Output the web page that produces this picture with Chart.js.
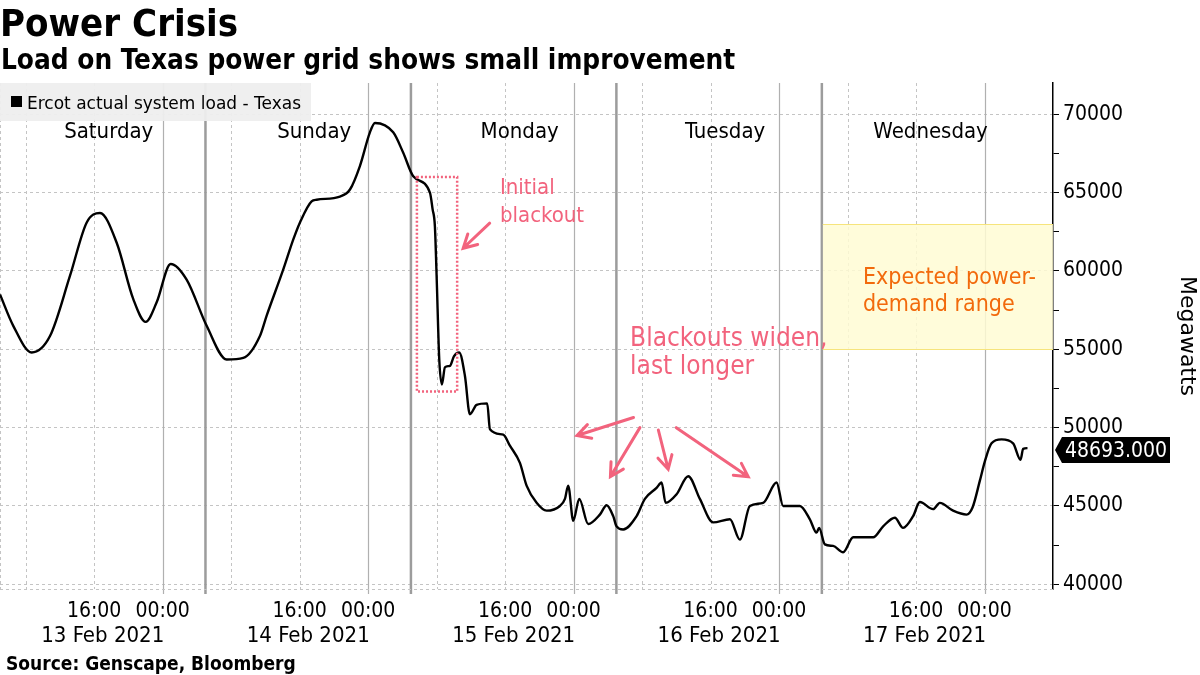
<!DOCTYPE html>
<html>
<head>
<meta charset="utf-8">
<script src="https://cdn.jsdelivr.net/npm/chart.js@4.4.1/dist/chart.umd.min.js"></script>
<style>
  html, body { margin: 0; padding: 0; background: #fff; }
  #wrap { position: relative; width: 1200px; height: 675px; overflow: hidden;
          font-family: "DejaVu Sans Condensed", "DejaVu Sans", sans-serif; color: #000; }
  #title { position: absolute; left: 0; top: 4px; font-size: 38px; font-weight: bold; line-height: 1; }
  #subtitle { position: absolute; left: 1px; top: 46px; font-size: 27.7px; font-weight: bold; line-height: 1; }
  #source { position: absolute; left: 6px; top: 654px; font-size: 19px; font-weight: bold; line-height: 1; }
  #chart { position: absolute; left: 0; top: 0; }
</style>
</head>
<body>
<div id="wrap">
  <canvas id="chart" width="1200" height="675"></canvas>
  <div id="title">Power Crisis</div>
  <div id="subtitle">Load on Texas power grid shows small improvement</div>
  <div id="source">Source: Genscape, Bloomberg</div>
</div>
<script>
// hours counted from 13 Feb 2021 00:00 (chart time)
const hours = [
  5.0, 6.55, 8.7, 10.84, 13.18, 15.13, 16.68, 18.63, 20.57, 22.02, 23.3, 24.94, 26.8,
  29.14, 31.48, 33.42, 35.36, 36.15, 38.09, 39.25, 40.04, 41.4, 41.99, 44.71, 45.88,
  47.04, 48.21, 48.8, 50.93, 52.1, 53.27, 55.22, 55.53, 55.8, 56.0, 56.31, 56.62,
  56.97, 57.56, 58.02, 58.64, 59.31, 59.89, 60.67, 61.91, 62.23, 63.78, 64.56, 65.73,
  66.51, 67.68, 68.85, 70.4, 70.99, 71.37, 71.96, 72.66, 73.71, 75.07, 75.86, 76.63,
  77.02, 77.79, 79.36, 80.33, 81.69, 82.28, 82.75, 84.03, 85.39, 86.75, 88.3, 90.26,
  91.42, 92.59, 94.14, 95.71, 96.48, 98.43, 99.6, 100.38, 100.68, 101.35, 102.32,
  103.49, 104.66, 106.99, 108.16, 109.53, 110.49, 111.66, 112.45, 114.0, 114.78,
  116.33, 117.9, 118.6, 119.45, 120.04, 120.82, 121.99, 123.34, 124.21, 124.51, 125.02
];
// Ercot actual system load, MW
const load = [
  58500, 56500, 54800, 55850, 59700, 63100, 63700, 61800, 58200, 56750, 58000, 60450, 59450,
  56500, 54350, 54450, 55850, 57150, 60100, 62000, 63100, 64450, 64550, 64750, 65200,
  66700, 68850, 69450, 68850, 67550, 66050, 65000, 63950, 62850, 59700, 54350, 52750,
  53850, 53950, 54550, 54800, 53300, 50850, 51450, 51550, 49900, 49550, 48850, 47750,
  46300, 45200, 44700, 45000, 45450, 46300, 44050, 45450, 43850, 44450, 45050, 44350,
  43700, 43500, 44350, 45450, 46150, 46500, 45200, 45750, 46900, 45450, 43950, 44150,
  42850, 45000, 45200, 46500, 45000, 45000, 44150, 43300, 43600, 42550, 42450,
  42050, 43000, 43000, 43700, 44250, 43600, 44350, 45250, 44800, 45200,
  44700, 44450, 44900, 46600, 47850, 49000, 49250, 49000, 47950, 48650, 48693
];
const seriesName = 'Ercot actual system load - Texas';
const dayNames = ['Saturday', 'Sunday', 'Monday', 'Tuesday', 'Wednesday'];
const dayDates = ['13 Feb 2021', '14 Feb 2021', '15 Feb 2021', '16 Feb 2021', '17 Feb 2021'];
const dayStarts = [5, 29, 53, 77, 101];
const xTicks = [16, 24, 40, 48, 64, 72, 88, 96, 112, 120];
const yTicks = [40000, 42500, 45000, 47500, 50000, 52500, 55000, 57500, 60000, 62500, 65000, 67500, 70000];
const demandRange = [55000, 63000];

// annotation anchors in data units [hour, MW]
const blackoutBox = [53.7, 58.4, 52300, 66000];
const initialArrow = [62.2, 63050, 59.1, 61450];
const widenArrows = [
  [79.0, 50650, 72.4, 49500],
  [79.75, 50000, 76.3, 46870],
  [81.9, 49850, 83.05, 47350],
  [84.0, 50000, 92.4, 46870]
];

const FONT = '"DejaVu Sans Condensed", "DejaVu Sans", sans-serif';
const FONT_WIDE = '"DejaVu Sans", sans-serif';
const PINK = '#f2637d';
const ORANGE = '#f26a0c';
Chart.defaults.font.family = FONT;
Chart.defaults.color = '#000';

function vline(ctx, px, top, bottom, color, width, dash) {
  ctx.save();
  ctx.strokeStyle = color;
  ctx.lineWidth = width;
  ctx.setLineDash(dash || []);
  ctx.beginPath();
  ctx.moveTo(px, top);
  ctx.lineTo(px, bottom);
  ctx.stroke();
  ctx.restore();
}

function arrow(ctx, x1, y1, x2, y2) {
  const a = Math.atan2(y2 - y1, x2 - x1), L = 15, w = 0.5;
  ctx.beginPath();
  ctx.moveTo(x1, y1);
  ctx.lineTo(x2, y2);
  ctx.moveTo(x2 - L * Math.cos(a - w), y2 - L * Math.sin(a - w));
  ctx.lineTo(x2, y2);
  ctx.lineTo(x2 - L * Math.cos(a + w), y2 - L * Math.sin(a + w));
  ctx.stroke();
}

const decorations = {
  id: 'decorations',
  beforeDatasetsDraw(chart) {
    const {ctx, chartArea: a, scales: {x, y}} = chart;
    // vertical grid: 08:00 / 16:00 dashed, 00:00 light, day separators dark
    vline(ctx, Math.round(x.getPixelForValue(5)) + 0.5, a.top, a.bottom, '#c4c4c4', 1, [3, 3]);
    dayStarts.forEach((s, i) => {
      [s + 3, s + 11].forEach(h => {
        vline(ctx, Math.round(x.getPixelForValue(h)) + 0.5, a.top, a.bottom, '#c4c4c4', 1, [3, 3]);
      });
      vline(ctx, Math.round(x.getPixelForValue(s + 19)) + 0.5, a.top, a.bottom + 5, '#b0b0b0', 1.2);
      if (i < dayStarts.length - 1) {
        vline(ctx, x.getPixelForValue(s + 24), a.top, a.bottom + 5, '#9c9c9c', 2.5);
      }
    });
    // bottom dashed edge
    ctx.save();
    ctx.strokeStyle = '#c4c4c4';
    ctx.setLineDash([3, 3]);
    ctx.beginPath();
    ctx.moveTo(a.left, a.bottom + 0.5);
    ctx.lineTo(a.right, a.bottom + 0.5);
    ctx.stroke();
    ctx.restore();

    // expected demand range
    const rx = x.getPixelForValue(101) + 1;
    const ry1 = y.getPixelForValue(demandRange[1]);
    const ry2 = y.getPixelForValue(demandRange[0]);
    ctx.save();
    ctx.fillStyle = 'rgba(255, 251, 212, 0.85)';
    ctx.fillRect(rx, ry1, a.right - rx, ry2 - ry1);
    ctx.strokeStyle = '#f6e47c';
    ctx.lineWidth = 1;
    ctx.beginPath();
    ctx.moveTo(rx, Math.round(ry1) + 0.5); ctx.lineTo(a.right, Math.round(ry1) + 0.5);
    ctx.moveTo(rx, Math.round(ry2) + 0.5); ctx.lineTo(a.right, Math.round(ry2) + 0.5);
    ctx.stroke();
    ctx.fillStyle = ORANGE;
    ctx.font = '23px ' + FONT;
    ctx.textBaseline = 'alphabetic';
    const tx = x.getPixelForValue(105.8), ty = y.getPixelForValue(59150);
    ctx.fillText('Expected power-', tx, ty);
    ctx.fillText('demand range', tx, ty + 27);
    ctx.restore();
  },
  afterDatasetsDraw(chart) {
    const {ctx, chartArea: a, scales: {x, y}} = chart;
    ctx.save();
    // legend
    ctx.fillStyle = 'rgba(238, 238, 238, 0.95)';
    ctx.fillRect(a.left, a.top, 311, 38);
    ctx.fillStyle = '#000';
    ctx.fillRect(a.left + 11, a.top + 13, 11, 11);
    ctx.font = '17px ' + FONT_WIDE;
    ctx.textBaseline = 'alphabetic';
    ctx.fillText(chart.data.datasets[0].label, a.left + 27, a.top + 26);

    // day names and dates
    ctx.textAlign = 'center';
    dayStarts.forEach((s, i) => {
      const cx = x.getPixelForValue(s + 12);
      ctx.font = '22px ' + FONT;
      ctx.fillText(dayNames[i], cx + 6, 138);
      ctx.fillText(dayDates[i], cx, 642);
    });

    // initial blackout
    ctx.strokeStyle = PINK;
    ctx.fillStyle = PINK;
    ctx.lineWidth = 2.5;
    ctx.setLineDash([2, 2]);
    const bx1 = x.getPixelForValue(blackoutBox[0]), bx2 = x.getPixelForValue(blackoutBox[1]);
    const by1 = y.getPixelForValue(blackoutBox[3]), by2 = y.getPixelForValue(blackoutBox[2]);
    ctx.strokeRect(bx1, by1, bx2 - bx1, by2 - by1);
    ctx.setLineDash([]);
    ctx.lineWidth = 3;
    ctx.lineCap = 'round';
    arrow(ctx, x.getPixelForValue(initialArrow[0]), y.getPixelForValue(initialArrow[1]),
      x.getPixelForValue(initialArrow[2]), y.getPixelForValue(initialArrow[3]));
    widenArrows.forEach(w => {
      arrow(ctx, x.getPixelForValue(w[0]), y.getPixelForValue(w[1]),
        x.getPixelForValue(w[2]), y.getPixelForValue(w[3]));
    });
    ctx.textAlign = 'left';
    ctx.font = '22px ' + FONT;
    let tx = x.getPixelForValue(63.4), ty = y.getPixelForValue(64900);
    ctx.fillText('Initial', tx, ty);
    ctx.fillText('blackout', tx, ty + 28);
    ctx.font = '26px ' + FONT;
    tx = x.getPixelForValue(78.6); ty = y.getPixelForValue(55200);
    ctx.fillText('Blackouts widen,', tx, ty);
    ctx.fillText('last longer', tx, ty + 28);

    // last value marker
    const last = load[load.length - 1];
    const ly = y.getPixelForValue(last) + 2;
    ctx.fillStyle = '#000';
    ctx.beginPath();
    ctx.moveTo(a.right + 2, ly);
    ctx.lineTo(a.right + 9, ly - 13);
    ctx.lineTo(a.right + 117, ly - 13);
    ctx.lineTo(a.right + 117, ly + 13);
    ctx.lineTo(a.right + 9, ly + 13);
    ctx.closePath();
    ctx.fill();
    ctx.fillStyle = '#fff';
    ctx.font = '21px ' + FONT;
    ctx.textBaseline = 'middle';
    ctx.textAlign = 'center';
    ctx.fillText(last.toFixed(3), a.right + 63, ly + 1);
    ctx.restore();
  }
};

new Chart(document.getElementById('chart'), {
  type: 'line',
  data: {
    datasets: [{
      label: seriesName,
      data: hours.map((h, i) => ({x: h, y: load[i]})),
      borderColor: '#000',
      borderWidth: 2.4,
      borderJoinStyle: 'round',
      pointRadius: 0,
      cubicInterpolationMode: 'monotone'
    }]
  },
  options: {
    responsive: false,
    animation: false,
    devicePixelRatio: 1,
    layout: {padding: {top: 83, left: 0, right: 0, bottom: 0}},
    plugins: {legend: {display: false}, tooltip: {enabled: false}},
    scales: {
      x: {
        type: 'linear',
        min: 5,
        max: 128,
        afterBuildTicks: s => { s.ticks = xTicks.map(v => ({value: v})); },
        afterFit: s => { s.height = 86; },
        grid: {display: false, drawTicks: false},
        border: {display: false},
        ticks: {
          autoSkip: false, maxRotation: 0, padding: 10, color: '#000', font: {size: 21},
          callback: v => String(v % 24).padStart(2, '0') + ':00'
        }
      },
      y: {
        position: 'right',
        min: 39700,
        max: 72000,
        afterBuildTicks: s => { s.ticks = yTicks.map(v => ({value: v})); },
        afterFit: s => { s.width = 147; },
        grid: {
          color: c => (c.tick && c.tick.value % 5000 === 0) ? '#c4c4c4' : 'rgba(0,0,0,0)',
          tickColor: '#000',
          tickLength: 6,
          lineWidth: 1
        },
        border: {display: true, color: '#000', width: 1.5, dash: [3, 3]},
        ticks: {
          padding: 4, color: '#000', font: {size: 21},
          callback: v => v % 5000 === 0 ? String(v) : ''
        },
        title: {display: true, text: 'Megawatts', color: '#000',
          font: {size: 22, family: FONT_WIDE}, padding: {top: 0, bottom: 3}}
      }
    }
  },
  plugins: [decorations]
});
</script>
</body>
</html>
